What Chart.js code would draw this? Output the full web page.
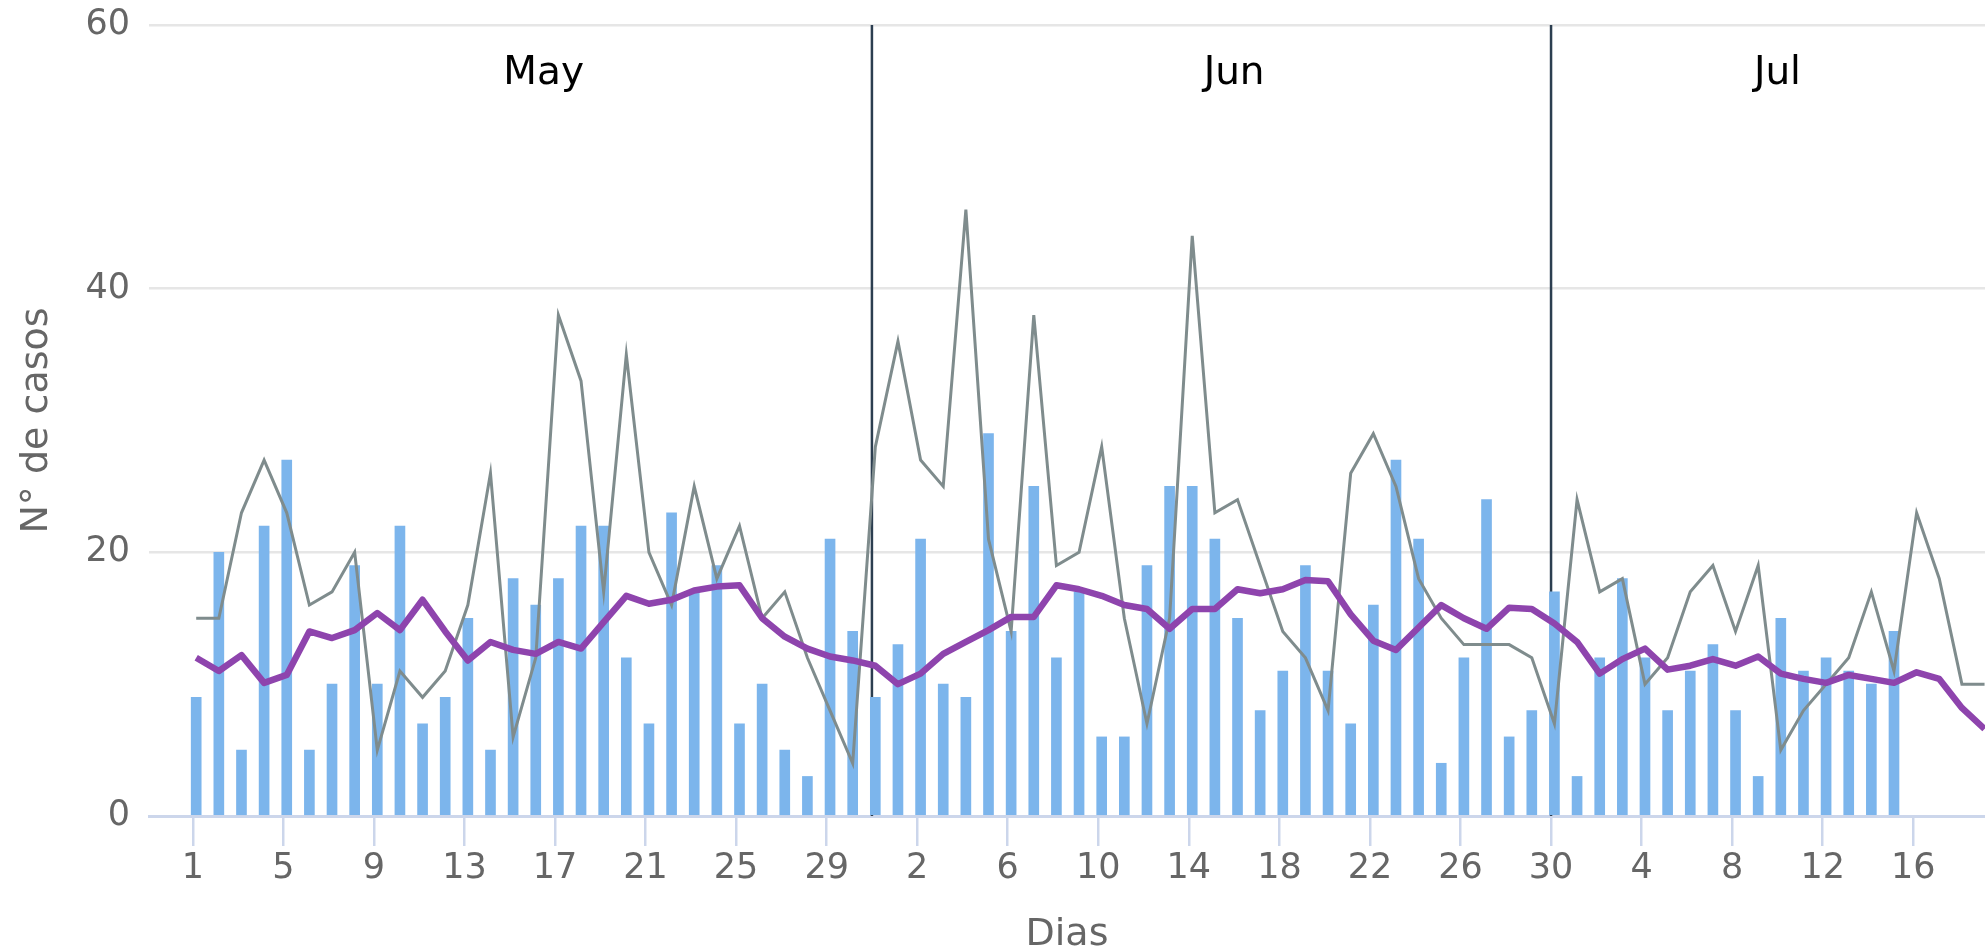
<!DOCTYPE html>
<html>
<head>
<meta charset="utf-8">
<script src="https://cdn.jsdelivr.net/npm/chart.js@4.4.1/dist/chart.umd.min.js"></script>
<style>
  html, body { margin: 0; padding: 0; background: #fff; }
  #wrap { width: 1985px; height: 951px; }
</style>
</head>
<body>
<div id="wrap"><canvas id="casos" width="1985" height="951"></canvas></div>
<script>
const monthNames = ['May', 'Jun', 'Jul'];
const monthLengths = [31, 30, 19];

// daily cases (bars), May 1 .. Jul 15
const dailyCases = [
  9, 20, 5, 22, 27, 5, 10, 19, 10, 22, 7, 9, 15, 5, 18, 16, 18, 22, 22, 12, 7, 23, 17, 19, 7, 10, 5, 3, 21, 14, 9,
  13, 21, 10, 9, 29, 14, 25, 12, 17, 6, 6, 19, 25, 25, 21, 15, 8, 11, 19, 11, 7, 16, 27, 21, 4, 12, 24, 6, 8, 17,
  3, 12, 18, 12, 8, 11, 13, 8, 3, 15, 11, 12, 11, 10, 14, null, null, null, null
];

// grey series
const greyCases = [
  15, 15, 23, 27, 23, 16, 17, 20, 5, 11, 9, 11, 16, 26, 6, 12, 38, 33, 17, 35, 20, 16, 25, 18, 22, 15, 17, 12, 8, 4, 28,
  36, 27, 25, 46, 21, 14, 38, 19, 20, 28, 15, 7, 15, 44, 23, 24, 19, 14, 12, 8, 26, 29, 25, 18, 15, 13, 13, 13, 12, 7,
  24, 17, 18, 10, 12, 17, 19, 14, 19, 5, 8, 10, 12, 17, 11, 23, 18, 10, 10
];

// moving average (purple)
const movingAvg = [
  12.0, 11.0, 12.2, 10.1, 10.7, 14.0, 13.5, 14.1, 15.4, 14.1, 16.4, 14.0, 11.8, 13.2, 12.6, 12.3, 13.2, 12.7, 14.7, 16.7,
  16.1, 16.4, 17.1, 17.4, 17.5, 15.0, 13.6, 12.7, 12.1, 11.8, 11.4,
  10.0, 10.8, 12.3, 13.2, 14.1, 15.1, 15.1, 17.5, 17.2, 16.7, 16.0, 15.7, 14.2, 15.7, 15.7, 17.2, 16.9, 17.2, 17.9, 17.8,
  15.3, 13.3, 12.6, 14.3, 16.0, 15.0, 14.2, 15.8, 15.7, 14.6,
  13.2, 10.8, 11.9, 12.7, 11.1, 11.4, 11.9, 11.4, 12.1, 10.8, 10.4, 10.1, 10.7, 10.4, 10.1, 10.9, 10.4, 8.2, 6.6
];

const yTicks = [0, 20, 40, 60];

// one category per day, labelled with the day of the month
const categories = [];
const monthStarts = [];
monthLengths.forEach(function (n) {
  monthStarts.push(categories.length);
  for (let d = 1; d <= n; d++) categories.push(String(d));
});

const shift = 0.15; // ticks and month lines sit a little left of the points

function points(values) {
  return values.map(function (v, i) { return { x: i, y: v }; });
}

const monthMarks = {
  id: 'monthMarks',
  beforeDatasetsDraw(chart, args, opts) {
    const xs = chart.scales.x, area = chart.chartArea, ctx = chart.ctx;
    ctx.save();
    ctx.strokeStyle = opts.lineColor;
    ctx.lineWidth = opts.lineWidth;
    for (let m = 1; m < monthStarts.length; m++) {
      const px = xs.getPixelForValue(monthStarts[m] - 1 - shift);
      ctx.beginPath();
      ctx.moveTo(px, area.top);
      ctx.lineTo(px, area.bottom);
      ctx.stroke();
    }
    ctx.restore();
  },
  afterDatasetsDraw(chart, args, opts) {
    const xs = chart.scales.x, ctx = chart.ctx;
    ctx.save();
    ctx.fillStyle = opts.color;
    ctx.font = opts.font;
    ctx.textAlign = 'center';
    ctx.textBaseline = 'alphabetic';
    for (let m = 0; m < monthNames.length; m++) {
      const end = m + 1 < monthStarts.length ? monthStarts[m + 1] : categories.length - 1;
      const mid = (monthStarts[m] + end) / 2 - shift;
      ctx.fillText(monthNames[m], xs.getPixelForValue(mid), opts.y);
    }
    ctx.restore();
  }
};

new Chart(document.getElementById('casos'), {
  type: 'bar',
  data: {
    datasets: [
      {
        type: 'line',
        data: points(movingAvg),
        borderColor: '#8e44ad',
        borderWidth: 6.5,
        borderJoinStyle: 'round',
        pointRadius: 0,
        tension: 0,
        order: 1
      },
      {
        type: 'line',
        data: points(greyCases),
        borderColor: '#7f8c8d',
        borderWidth: 3,
        pointRadius: 0,
        tension: 0,
        order: 2
      },
      {
        type: 'bar',
        data: points(dailyCases),
        backgroundColor: '#7cb5ec',
        barThickness: 10,
        order: 3
      }
    ]
  },
  options: {
    responsive: false,
    animation: false,
    devicePixelRatio: 1,
    layout: { padding: { top: 25, left: 0, right: 0, bottom: 0 } },
    plugins: {
      legend: { display: false },
      tooltip: { enabled: false },
      monthMarks: {
        lineColor: '#2c3e50',
        lineWidth: 2.5,
        color: '#000000',
        font: '39px "DejaVu Sans"',
        y: 84
      }
    },
    scales: {
      x: {
        type: 'linear',
        offset: false,
        min: -2.085,
        max: 79.02,
        afterBuildTicks: function (scale) {
          const t = [];
          for (let i = 0; i < categories.length; i += 4) t.push({ value: i - shift });
          scale.ticks = t;
        },
        afterFit: function (scale) { scale.height = 135; },
        grid: {
          offset: false,
          drawOnChartArea: false,
          color: '#ccd6eb',
          lineWidth: 2.5,
          tickLength: 30
        },
        border: { color: '#ccd6eb', width: 3 },
        ticks: {
          autoSkip: false,
          maxRotation: 0,
          padding: 2,
          color: '#666666',
          font: { family: 'DejaVu Sans', size: 35 },
          callback: function (value) { return categories[Math.round(value + shift)]; }
        },
        title: {
          display: true,
          text: 'Dias',
          color: '#666666',
          font: { family: 'DejaVu Sans', size: 38, lineHeight: 0.85 },
          padding: { top: 0, bottom: 0 }
        }
      },
      y: {
        min: 0,
        max: 60,
        afterBuildTicks: function (scale) {
          scale.ticks = yTicks.map(function (v) { return { value: v }; });
        },
        afterFit: function (scale) { scale.width = 149; },
        grid: { color: '#e6e6e6', lineWidth: 2.5, drawTicks: true, tickLength: 19, tickColor: 'rgba(0,0,0,0)' },
        border: { display: false },
        ticks: {
          padding: 0,
          color: '#666666',
          font: { family: 'DejaVu Sans', size: 35 }
        },
        title: {
          display: true,
          text: 'N° de casos',
          color: '#666666',
          font: { family: 'DejaVu Sans', size: 38 },
          padding: { top: 14, bottom: 0 }
        }
      }
    }
  },
  plugins: [monthMarks]
});
</script>
</body>
</html>
